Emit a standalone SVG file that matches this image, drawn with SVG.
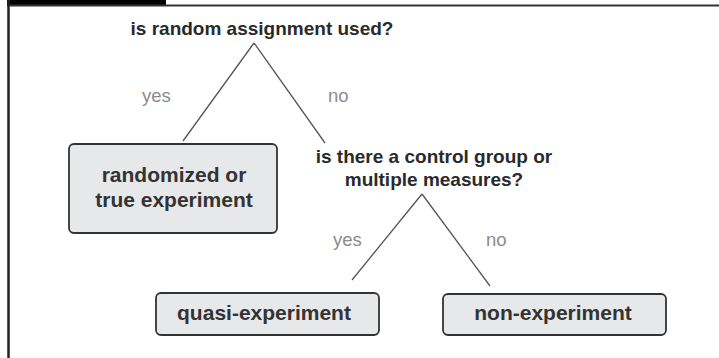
<svg xmlns="http://www.w3.org/2000/svg" width="719" height="358" viewBox="0 0 719 358">
<style>
.q{font-family:"Liberation Sans",Arial,sans-serif;font-weight:bold;font-size:19px;fill:#2a2a2a;text-anchor:middle}
.b{font-family:"Liberation Sans",Arial,sans-serif;font-weight:bold;font-size:21px;fill:#333;text-anchor:middle}
.l{font-family:"Liberation Sans",Arial,sans-serif;font-size:18.5px;fill:#8c8c8c}
.box{fill:#e7e8ea;stroke:#333;stroke-width:1.8}
.c{stroke:#555;stroke-width:1.3;fill:none}
</style>
<rect width="719" height="358" fill="#fff"/>
<g id="frame">
<rect x="7" y="0" width="159" height="5.5" fill="#000"/>
<line x1="7" y1="5.5" x2="719" y2="5.5" stroke="#333" stroke-width="2"/>
<line x1="8.5" y1="0" x2="8.5" y2="358" stroke="#222" stroke-width="2.5"/>
</g>
<g id="connectors">
<line class="c" x1="254" y1="43" x2="183" y2="141"/>
<line class="c" x1="254" y1="43" x2="325" y2="143"/>
<line class="c" x1="422" y1="194" x2="352" y2="280"/>
<line class="c" x1="422" y1="194" x2="490" y2="286"/>
<text class="l" x="142" y="102">yes</text>
<text class="l" x="328" y="102">no</text>
<text class="l" x="333" y="246">yes</text>
<text class="l" x="486" y="246">no</text>
</g>
<g id="q1">
<text class="q" x="262" y="35">is random assignment used?</text>
</g>
<g id="q2">
<text class="q" x="434" y="163">is there a control group or</text>
<text class="q" x="434" y="186">multiple measures?</text>
</g>
<g id="randomized">
<rect class="box" x="69" y="144" width="208" height="89" rx="5"/>
<text class="b" x="174" y="182">randomized or</text>
<text class="b" x="174" y="207">true experiment</text>
</g>
<g id="quasi">
<rect class="box" x="156" y="293" width="223" height="42" rx="5"/>
<text class="b" x="264" y="320">quasi-experiment</text>
</g>
<g id="non">
<rect class="box" x="443" y="294" width="223" height="41" rx="5"/>
<text class="b" x="553" y="320">non-experiment</text>
</g>
</svg>
